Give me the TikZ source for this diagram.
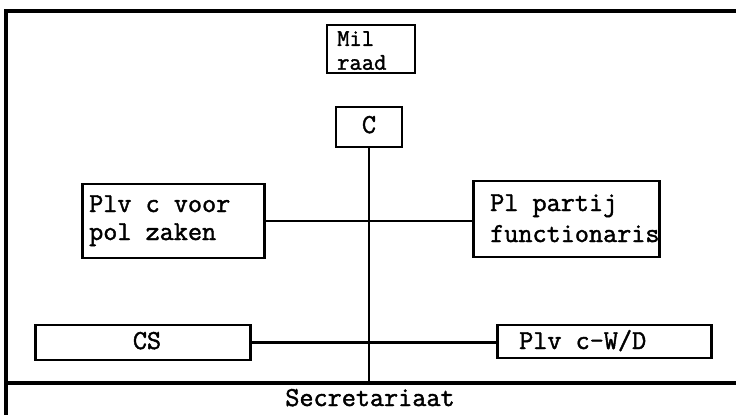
\documentclass[tikz,border=0pt]{standalone}
\usepackage{fontspec}
\newfontfamily\typew{Latin Modern Mono}[AutoFakeBold=1.6]
\begin{document}
\begin{tikzpicture}[x=1bp,y=-1bp,
  box/.style={draw, rectangle, line width=2.6bp, inner sep=0pt},
  txt/.style={inner sep=0pt, font=\typew\bfseries\fontsize{27.5}{26}\selectfont},
  conn/.style={line width=2.2bp},
  frameline/.style={line width=3.2bp}]
\useasboundingbox (0,0) rectangle (736,415);
% outer frame
\coordinate (tl) at (6,11);
\coordinate (tr) at (736,11);
\coordinate (bl) at (6,415);
\coordinate (ml) at (6,383);
\coordinate (mr) at (736,383);
\draw[frameline] (tr) -- (tl) -- (bl);
\draw[frameline] (ml) -- (mr);
% boxes
\node[box, minimum width=88, minimum height=48] (mil) at (371,49) {};
\node[txt, anchor=north west, align=left, font=\typew\bfseries\fontsize{24}{24}\selectfont] (milt) at (337,31) {Mil\\raad};
\node[box, minimum width=66, minimum height=40] (c) at (369,127) {};
\node[txt, anchor=base] (ct) at (369,133) {C};
\node[box, minimum width=183, minimum height=74] (plv) at (173.5,221) {};
\node[txt, anchor=base west] (plvt1) at (89,212) {Plv c voor};
\node[txt, anchor=base west] (plvt2) at (89,240) {pol zaken};
\node[box, minimum width=187, minimum height=76] (pp) at (566.5,219) {};
\node[txt, anchor=base west] (ppt1) at (490,211) {Pl partij};
\node[txt, anchor=base west] (ppt2) at (490,242) {functionaris};
\node[box, minimum width=216, minimum height=35] (cs) at (143,342.5) {};
\node[txt, anchor=base] (cst) at (147,349) {CS};
\node[box, minimum width=215, minimum height=33] (wd) at (604.5,341.5) {};
\node[txt, anchor=base west] (wdt) at (519,349) {Plv c-W/D};
\node[txt, anchor=base] (sec) at (370,406) {Secretariaat};
% connectors
\coordinate (sb) at (370,383);
\draw[conn] (c.south) -- (c.south |- sb);
\draw[conn] (plv.east) -- (plv.east -| pp.west);
\draw[conn] (cs.east) -- (cs.east -| wd.west);
\end{tikzpicture}
\end{document}
